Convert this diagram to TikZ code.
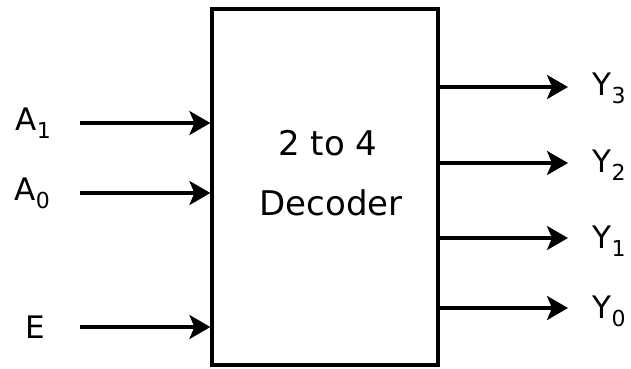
\documentclass[tikz,border=0pt]{standalone}
\usepackage{fontspec}
\setmainfont{DejaVu Sans}
\usetikzlibrary{arrows.meta,positioning}
\newcommand\pinidx[1]{\raisebox{-8pt}{\fontsize{22}{22}\selectfont #1}}

\begin{document}
\begin{tikzpicture}[x=1pt,y=-1pt,line width=3.2pt,
  sig/.style={-{Stealth[length=21pt,width=24pt,inset=5pt]}},
  pin/.style={font=\fontsize{31}{36}\selectfont,inner sep=0pt,anchor=base west}]
  \useasboundingbox (0,0) rectangle (631,368);
  % decoder block
  \node[draw,minimum width=226pt,minimum height=356pt,inner sep=0pt] (dec) at (325,187) {};
  \node[font=\fontsize{34}{40}\selectfont,inner sep=0pt,anchor=base] (top) at (328,155) {2 to 4};
  \node[font=\fontsize{34}{40}\selectfont,inner sep=0pt,anchor=base] (bot) at (331,215) {Decoder};
  % inputs
  \node[pin] (la1) at (14,130) {A\pinidx{1}};
  \node[pin] (la0) at (13,200) {A\pinidx{0}};
  \node[pin] (le) at (24,338) {E};
  \coordinate (a1) at (80,123);
  \coordinate (a0) at (80,193);
  \coordinate (e) at (80,327);
  \draw[sig] (a1) -- (dec.west |- a1);
  \draw[sig] (a0) -- (dec.west |- a0);
  \draw[sig] (e) -- (dec.west |- e);
  % outputs
  \coordinate (y3) at (568,87);
  \coordinate (y2) at (568,163);
  \coordinate (y1) at (568,238);
  \coordinate (y0) at (568,308);
  \draw[sig] (dec.east |- y3) -- (y3);
  \draw[sig] (dec.east |- y2) -- (y2);
  \draw[sig] (dec.east |- y1) -- (y1);
  \draw[sig] (dec.east |- y0) -- (y0);
  \node[pin] (ly3) at (591,95) {Y\pinidx{3}};
  \node[pin] (ly2) at (591,172) {Y\pinidx{2}};
  \node[pin] (ly1) at (591,248) {Y\pinidx{1}};
  \node[pin] (ly0) at (591,318) {Y\pinidx{0}};
\end{tikzpicture}
\end{document}
